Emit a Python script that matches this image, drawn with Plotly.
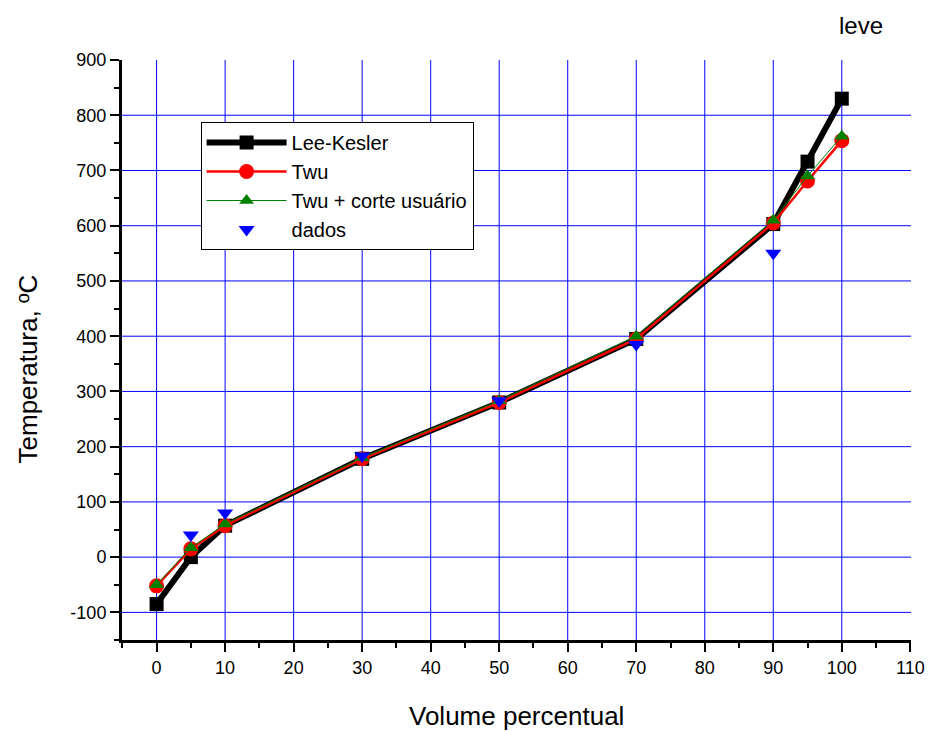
import plotly.graph_objects as go

# ---- data ----
vol = [0, 5, 10, 30, 50, 70, 90, 95, 100]
lee_kesler = [-85, 0, 57, 178, 280, 395, 603, 716, 830]
twu = [-52, 15, 57, 178, 280, 395, 605, 681, 754]
twu_corte = [-50, 17, 60, 180, 283, 400, 610, 690, 762]
dados_x = [5, 10, 30, 50, 70, 90]
dados_y = [40, 80, 183, 283, 385, 550]

x_ticks = list(range(0, 111, 10))
y_ticks = list(range(-100, 901, 100))
x_grid = list(range(0, 101, 10))
y_grid = list(range(-100, 801, 100))

FONT = "Liberation Sans, Arial, sans-serif"

# plot area in pixels
L, R, T, B = 122, 915, 60, 640
W, H = 937, 731
PW, PH = R - L, B - T


def px(xp):
    return (xp - L) / PW


def py(yp):
    return (B - yp) / PH


fig = go.Figure()
fig.add_trace(go.Scatter(x=vol, y=lee_kesler, name="Lee-Kesler", mode="lines+markers",
                         line=dict(color="black", width=6),
                         marker=dict(symbol="square", size=14, color="black")))
fig.add_trace(go.Scatter(x=vol, y=twu, name="Twu", mode="lines+markers",
                         line=dict(color="red", width=2.5),
                         marker=dict(symbol="circle", size=15, color="red")))
fig.add_trace(go.Scatter(x=vol, y=twu_corte, name="Twu + corte usuário", mode="lines+markers",
                         line=dict(color="#008000", width=1),
                         marker=dict(symbol="triangle-up", size=13, color="#008000")))
fig.add_trace(go.Scatter(x=dados_x, y=dados_y, name="dados", mode="markers",
                         marker=dict(symbol="triangle-down", size=14, color="#0000FF")))

shapes = []
for gx in x_grid:
    shapes.append(dict(type="line", xref="x", yref="paper", x0=gx, x1=gx, y0=0, y1=1,
                       line=dict(color="#0000FF", width=1), layer="below"))
for gy in y_grid:
    shapes.append(dict(type="line", xref="paper", yref="y", x0=0, x1=1, y0=gy, y1=gy,
                       line=dict(color="#0000FF", width=1), layer="below"))

annotations = [
    dict(text="leve", x=px(865), y=py(25), xref="paper", yref="paper",
         xanchor="center", yanchor="middle", showarrow=False,
         font=dict(size=24, family=FONT)),
    dict(text="Volume percentual", x=px(519), y=py(716), xref="paper", yref="paper",
         xanchor="center", yanchor="middle", showarrow=False,
         font=dict(size=26, family=FONT)),
    dict(text="Temperatura, ºC", x=px(28), y=py(369), xref="paper", yref="paper",
         xanchor="center", yanchor="middle", showarrow=False, textangle=-90,
         font=dict(size=26, family=FONT)),
]

fig.update_layout(
    width=W, height=H,
    margin=dict(l=L, r=W - R, t=T, b=H - B),
    paper_bgcolor="white", plot_bgcolor="white",
    font=dict(family=FONT, color="black"),
    shapes=shapes,
    annotations=annotations,
    showlegend=True,
    legend=dict(x=px(201), y=py(122), xanchor="left", yanchor="top",
                bgcolor="white", bordercolor="black", borderwidth=1,
                font=dict(size=20, family=FONT), itemwidth=80,
                tracegroupgap=0, itemsizing="trace"),
)

fig.update_xaxes(range=[-5.05, 110.1], tickvals=x_ticks, ticktext=[str(v) for v in x_ticks],
                 showgrid=False, zeroline=False, showline=True, linecolor="black", linewidth=3,
                 ticks="outside", ticklen=9, tickwidth=2, tickcolor="black",
                 tickfont=dict(size=18, family=FONT),
                 minor=dict(dtick=5, tick0=0, ticks="outside", ticklen=5, tickwidth=2,
                            tickcolor="black", showgrid=False))
fig.update_yaxes(range=[-150, 900], tickvals=y_ticks, ticktext=[str(v) for v in y_ticks],
                 showgrid=False, zeroline=False, showline=True, linecolor="black", linewidth=3,
                 ticks="outside", ticklen=9, tickwidth=2, tickcolor="black",
                 tickfont=dict(size=18, family=FONT),
                 minor=dict(dtick=50, tick0=0, ticks="outside", ticklen=5, tickwidth=2,
                            tickcolor="black", showgrid=False))

fig.write_html("out.html")
